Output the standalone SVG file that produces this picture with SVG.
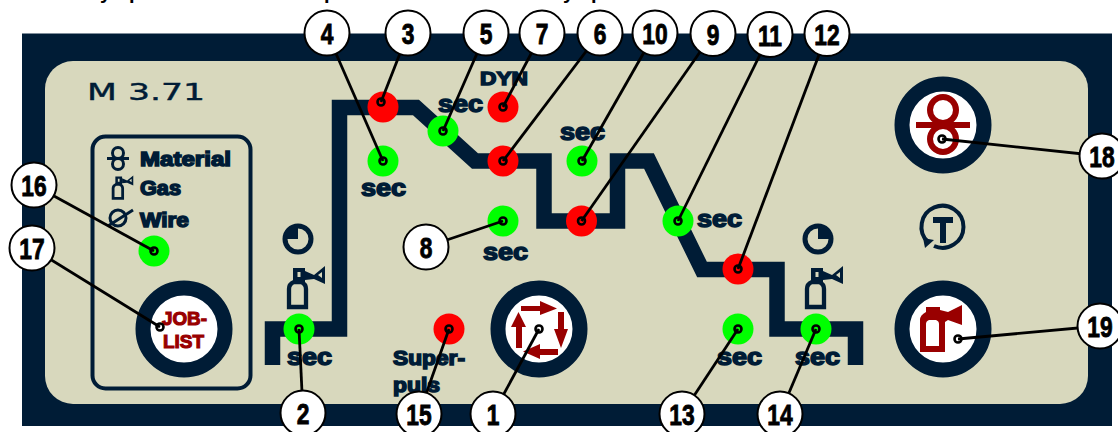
<svg xmlns="http://www.w3.org/2000/svg" xmlns:xlink="http://www.w3.org/1999/xlink" width="1118" height="432" viewBox="0 0 1118 432">
<style>
.navy{fill:#001c36}
.b{font-family:"Liberation Sans",Arial,sans-serif;font-weight:700;fill:#001c36;stroke:#001c36;stroke-width:1.5}
.sec{font-size:23px}
.mat{font-size:20px}
.red{font-family:"Liberation Sans",Arial,sans-serif;font-weight:700;font-size:19px;fill:#990000;stroke:#990000;stroke-width:1.1}
.top{font-family:"Liberation Sans",Arial,sans-serif;font-weight:700;font-size:20px;fill:#000}
.g{fill:#0f0}
.r{fill:#f00}
.btn{fill:#fff;stroke:#001c36;stroke-width:15}
.ln{fill:none;stroke:#001c36}
.dr{fill:none;stroke:#990000}
.lead line{stroke:#000;stroke-width:2.8;fill:none}
.lead circle{stroke:#000;stroke-width:2.6;fill:none}
.lab circle{fill:#fff;stroke:#000;stroke-width:2}
.lab text{font-family:"Liberation Sans",Arial,sans-serif;font-weight:700;font-size:30px;fill:#000;stroke:#000;stroke-width:.9;text-anchor:middle}
</style>
<defs>
<g id="gas">
<path d="M2,-1V-19Q2,-24 7,-26H14Q19,-24 19,-19V-1Z" fill="none" stroke="#001c36"/>
<path fill-rule="evenodd" fill="#001c36" d="M6,-40H18V-25H6ZM10.500,-36h3v5h-3Z"/>
<path fill-rule="evenodd" fill="#001c36" d="M18,-37L27,-33L38,-42V-24L27,-29L18,-28ZM31,-33L35,-36V-30Z"/>
</g>
</defs>
<text class="top" x="100" y="-1">y</text>
<text class="top" x="129" y="-1">p</text>
<text class="top" x="324" y="-1">p</text>
<text class="top" x="563" y="-1">y</text>
<text class="top" x="591" y="-1">p</text>

<g id="panel">
<rect class="navy" x="22" y="33.500" width="1090" height="392.500"/>
<rect x="45" y="61" width="1043" height="343" rx="28" fill="#d8d8bd"/>
<text x="87" y="100" font-family="'DejaVu Sans',sans-serif" font-size="23.500" fill="#001c36" stroke="#001c36" stroke-width=".4" textLength="118" lengthAdjust="spacingAndGlyphs">M 3.71</text>
<path class="ln" stroke-width="15.500" stroke-linejoin="miter" d="M272.500,365V329H339.500V107.500H416L475,161H544V221H617.500V161H649L702,269.500H777V329H855.500V365"/>
<rect x="92.500" y="136.500" width="158" height="252" rx="13" class="ln" stroke-width="4"/>
<circle class="ln" cx="118" cy="153" r="5.500" stroke-width="3"/>
<circle class="ln" cx="118" cy="164" r="5.500" stroke-width="3"/>
<path class="ln" d="M107,158.500H129" stroke-width="3"/>
<use xlink:href="#gas" href="#gas" transform="translate(112,199) scale(.56)" stroke-width="5"/>
<circle class="ln" cx="118" cy="218" r="8" stroke-width="3"/>
<path class="ln" d="M108,226L133,210" stroke-width="3"/>
<text class="b mat" x="140" y="166" textLength="91" lengthAdjust="spacingAndGlyphs">Material</text>
<text class="b mat" x="140" y="195" textLength="41" lengthAdjust="spacingAndGlyphs">Gas</text>
<text class="b mat" x="140" y="227" textLength="49" lengthAdjust="spacingAndGlyphs">Wire</text>
<g id="clock-left"><circle class="navy" cx="298" cy="239" r="15.500"/><path d="M298,228.500a10.500,10.500 0 1 1 -10.500,10.500H298Z" fill="#d8d8bd"/></g>
<g id="clock-right"><circle class="navy" cx="818" cy="239" r="15.500"/><path d="M818,228.500a10.500,10.500 0 1 0 10.500,10.500H818Z" fill="#d8d8bd"/></g>
<use xlink:href="#gas" href="#gas" transform="translate(287,308)" stroke-width="4.300"/>
<use xlink:href="#gas" href="#gas" transform="translate(805,308)" stroke-width="4.300"/>
<g id="timer-icon">
<path class="ln" stroke-width="4" d="M928,242A21,21 0 1 1 934,246"/>
<path class="navy" d="M923,238L934,240L925,248Z"/>
<path class="navy" d="M933,217H953V223H946V243H940V223H933Z"/>
</g>
<text class="b sec" x="287" y="365" textLength="45" lengthAdjust="spacingAndGlyphs">sec</text>
<text class="b sec" x="361" y="196" textLength="45" lengthAdjust="spacingAndGlyphs">sec</text>
<text class="b sec" x="438" y="112" textLength="45" lengthAdjust="spacingAndGlyphs">sec</text>
<text class="b sec" x="560" y="140" textLength="45" lengthAdjust="spacingAndGlyphs">sec</text>
<text class="b sec" x="483" y="260" textLength="45" lengthAdjust="spacingAndGlyphs">sec</text>
<text class="b sec" x="697" y="227" textLength="45" lengthAdjust="spacingAndGlyphs">sec</text>
<text class="b sec" x="717" y="365" textLength="45" lengthAdjust="spacingAndGlyphs">sec</text>
<text class="b sec" x="795" y="365" textLength="45" lengthAdjust="spacingAndGlyphs">sec</text>
<text class="b" x="480" y="85" font-size="19" textLength="48" lengthAdjust="spacingAndGlyphs">DYN</text>
<text class="b" x="393" y="365" font-size="20" textLength="72" lengthAdjust="spacingAndGlyphs">Super-</text>
<text class="b" x="393" y="392" font-size="20" textLength="47" lengthAdjust="spacingAndGlyphs">puls</text>
</g>

<g id="button-joblist">
<circle class="btn" cx="184" cy="329" r="41"/>
<text class="red" x="162" y="325" textLength="45" lengthAdjust="spacingAndGlyphs">JOB-</text>
<text class="red" x="163" y="348" textLength="41" lengthAdjust="spacingAndGlyphs">LIST</text>
</g>
<g id="button-1">
<circle class="btn" cx="539" cy="329" r="41"/>
<path fill="#990000" d="M521,306H540V301L557,308.500L540,315V311H521Z"/>
<path fill="#990000" d="M558,312H564V329H568L561,348L554,329H558Z"/>
<path fill="#990000" d="M558,349V355H540V359L523,351.500L540,344V349Z"/>
<path fill="#990000" d="M516,348V327H511L518.500,312L526,327H522V348Z"/>
</g>
<g id="button-18">
<circle class="btn" cx="943" cy="125" r="41"/>
<circle class="dr" cx="943" cy="110" r="13" stroke-width="6"/>
<circle class="dr" cx="943" cy="139" r="13" stroke-width="6"/>
<path class="dr" d="M916,125H970" stroke-width="6"/>
</g>
<g id="button-19">
<circle class="btn" cx="943" cy="329" r="41"/>
<path fill="#990000" fill-rule="evenodd" d="M920,352V320Q920,315 926,312V307H940V310L948,312L962,305V325L948,320L945,322V352ZM926,346H939V324Q939,321 936,320H929Q926,321 926,324Z"/>
</g>

<g id="led-2"><circle class="g" cx="299" cy="329" r="15.500"/></g>
<g id="led-3"><circle class="r" cx="383" cy="107" r="15.500"/></g>
<g id="led-4"><circle class="g" cx="383" cy="161" r="15.500"/></g>
<g id="led-5"><circle class="g" cx="443" cy="131" r="15.500"/></g>
<g id="led-6"><circle class="r" cx="503" cy="161" r="15.500"/></g>
<g id="led-7"><circle class="r" cx="503" cy="107" r="15.500"/></g>
<g id="led-8"><circle class="g" cx="503" cy="221" r="15.500"/></g>
<g id="led-9"><circle class="r" cx="581.500" cy="221" r="15.500"/></g>
<g id="led-10"><circle class="g" cx="582" cy="161" r="15.500"/></g>
<g id="led-11"><circle class="g" cx="678" cy="221" r="15.500"/></g>
<g id="led-12"><circle class="r" cx="738" cy="269" r="15.500"/></g>
<g id="led-13"><circle class="g" cx="738" cy="329" r="15.500"/></g>
<g id="led-14"><circle class="g" cx="816" cy="329" r="15.500"/></g>
<g id="led-15"><circle class="r" cx="449" cy="329" r="15.500"/></g>
<g id="led-16"><circle class="g" cx="154" cy="251" r="15.500"/></g>

<g id="connectors" class="lead">
<line x1="493" y1="414" x2="539" y2="329"/><circle cx="539" cy="329" r="3.500"/>
<line x1="303" y1="413" x2="299" y2="329"/><circle cx="299" cy="329" r="3.500"/>
<line x1="408" y1="33" x2="381" y2="102"/><circle cx="381" cy="102" r="3.500"/>
<line x1="327" y1="33" x2="383" y2="161"/><circle cx="383" cy="161" r="3.500"/>
<line x1="486" y1="33" x2="443" y2="131"/><circle cx="443" cy="131" r="3.500"/>
<line x1="600" y1="33" x2="503" y2="161"/><circle cx="503" cy="161" r="3.500"/>
<line x1="542" y1="33" x2="503" y2="107"/><circle cx="503" cy="107" r="3.500"/>
<line x1="426" y1="247" x2="503" y2="221"/><circle cx="503" cy="221" r="3.500"/>
<line x1="713" y1="33.500" x2="581.500" y2="221"/><circle cx="581.500" cy="221" r="3.500"/>
<line x1="655" y1="33" x2="582" y2="161"/><circle cx="582" cy="161" r="3.500"/>
<line x1="770" y1="34.500" x2="678" y2="221"/><circle cx="678" cy="221" r="3.500"/>
<line x1="827" y1="33.500" x2="738" y2="269"/><circle cx="738" cy="269" r="3.500"/>
<line x1="682" y1="414" x2="738" y2="329"/><circle cx="738" cy="329" r="3.500"/>
<line x1="780" y1="414" x2="816" y2="329"/><circle cx="816" cy="329" r="3.500"/>
<line x1="419" y1="414" x2="449" y2="329"/><circle cx="449" cy="329" r="3.500"/>
<line x1="34" y1="185" x2="154" y2="251"/><circle cx="154" cy="251" r="3.500"/>
<line x1="32" y1="248" x2="160" y2="327"/><circle cx="160" cy="327" r="3.500"/>
<line x1="1102" y1="156" x2="942" y2="139"/><circle cx="942" cy="139" r="3.500"/>
<line x1="1100" y1="326" x2="958" y2="339"/><circle cx="958" cy="339" r="3.500"/>
</g>

<g id="label-1" class="lab" transform="translate(493,414)"><circle r="22.500"/><text transform="scale(.76,1)" y="11">1</text></g>
<g id="label-2" class="lab" transform="translate(303,413)"><circle r="22.500"/><text transform="scale(.76,1)" y="11">2</text></g>
<g id="label-3" class="lab" transform="translate(408,33)"><circle r="22.500"/><text transform="scale(.76,1)" y="11">3</text></g>
<g id="label-4" class="lab" transform="translate(327,33)"><circle r="22.500"/><text transform="scale(.76,1)" y="11">4</text></g>
<g id="label-5" class="lab" transform="translate(486,33)"><circle r="22.500"/><text transform="scale(.76,1)" y="11">5</text></g>
<g id="label-6" class="lab" transform="translate(600,33)"><circle r="22.500"/><text transform="scale(.76,1)" y="11">6</text></g>
<g id="label-7" class="lab" transform="translate(542,33)"><circle r="22.500"/><text transform="scale(.76,1)" y="11">7</text></g>
<g id="label-8" class="lab" transform="translate(426,247)"><circle r="22.500"/><text transform="scale(.76,1)" y="11">8</text></g>
<g id="label-9" class="lab" transform="translate(713,33.500)"><circle r="22.500"/><text transform="scale(.76,1)" y="11">9</text></g>
<g id="label-10" class="lab" transform="translate(655,33)"><circle r="22.500"/><text transform="scale(.76,1)" y="11">10</text></g>
<g id="label-11" class="lab" transform="translate(770,34.500)"><circle r="22.500"/><text transform="scale(.76,1)" y="11">11</text></g>
<g id="label-12" class="lab" transform="translate(827,33.500)"><circle r="22.500"/><text transform="scale(.76,1)" y="11">12</text></g>
<g id="label-13" class="lab" transform="translate(682,414)"><circle r="22.500"/><text transform="scale(.76,1)" y="11">13</text></g>
<g id="label-14" class="lab" transform="translate(780,414)"><circle r="22.500"/><text transform="scale(.76,1)" y="11">14</text></g>
<g id="label-15" class="lab" transform="translate(419,414)"><circle r="22.500"/><text transform="scale(.76,1)" y="11">15</text></g>
<g id="label-16" class="lab" transform="translate(34,185)"><circle r="22.500"/><text transform="scale(.76,1)" y="11">16</text></g>
<g id="label-17" class="lab" transform="translate(32,248)"><circle r="22.500"/><text transform="scale(.76,1)" y="11">17</text></g>
<g id="label-18" class="lab" transform="translate(1102,156)"><circle r="22.500"/><text transform="scale(.76,1)" y="11">18</text></g>
<g id="label-19" class="lab" transform="translate(1100,326)"><circle r="22.500"/><text transform="scale(.76,1)" y="11">19</text></g>
</svg>
